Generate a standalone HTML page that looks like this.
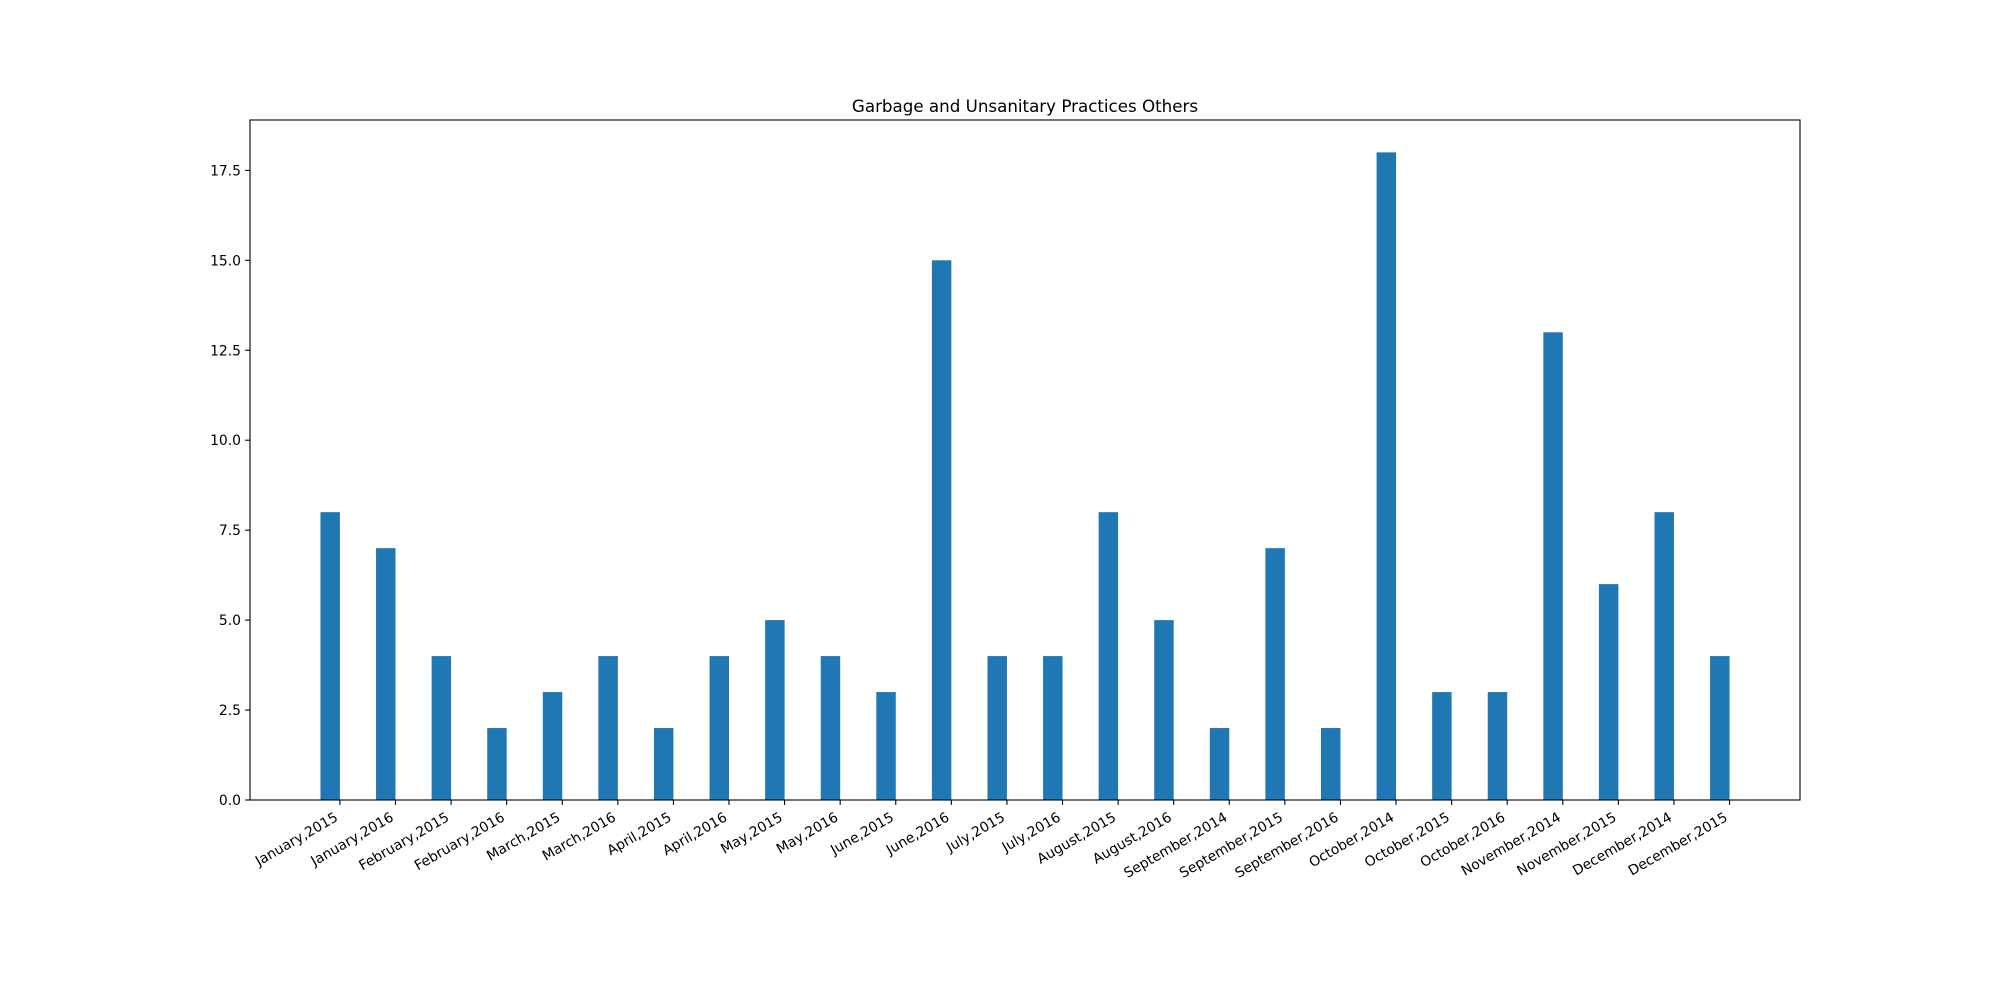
<!DOCTYPE html>
<html><head><meta charset="utf-8"><style>
html,body{margin:0;padding:0;background:#fff;}
svg{display:block;font-family:"DejaVu Sans","Liberation Sans",sans-serif;}
</style></head><body>
<svg id="chart" width="2000" height="1000" viewBox="0 0 2000 1000">
<rect width="2000" height="1000" fill="#fff"/>
<text x="1025" y="112" font-size="16.7" text-anchor="middle">Garbage and Unsanitary Practices Others</text>
<g id="bars"></g><g id="xticks"></g><g id="yticks"></g>
<rect x="250" y="120" width="1550" height="680" fill="none" stroke="#000" stroke-width="1.1"/>
</svg>
<script>
const categories=["January,2015","January,2016","February,2015","February,2016","March,2015","March,2016","April,2015","April,2016","May,2015","May,2016","June,2015","June,2016","July,2015","July,2016","August,2015","August,2016","September,2014","September,2015","September,2016","October,2014","October,2015","October,2016","November,2014","November,2015","December,2014","December,2015"];
const values=[8,7,4,2,3,4,2,4,5,4,3,15,4,4,8,5,2,7,2,18,3,3,13,6,8,4];
const yTicks=[0,2.5,5,7.5,10,12.5,15,17.5];
const NS="http://www.w3.org/2000/svg";
const L=250,R=1800,T=120,B=800,W=0.35;
const n=categories.length;
const xmin=-(n-1+W)*0.05, xmax=(n-1+W)*1.05;
const ymax=Math.max(...values)*1.05;
const xs=v=>L+(v-xmin)/(xmax-xmin)*(R-L);
const ys=v=>B-v/ymax*(B-T);
function mk(t,a){const e=document.createElementNS(NS,t);for(const k in a)e.setAttribute(k,a[k]);return e;}
const gb=document.getElementById('bars'),gx=document.getElementById('xticks'),gy=document.getElementById('yticks');
values.forEach((v,i)=>{
  const r=mk('rect',{x:xs(i),y:ys(v),width:xs(i+W)-xs(i),height:B-ys(v),fill:'#1f77b4'});
  
  
  gb.appendChild(r);
});
categories.forEach((c,i)=>{
  const x=xs(i+W);
  const l=mk('line',{x1:x,x2:x,y1:B,y2:B+4.9,stroke:'#000','stroke-width':1.1});
  
  
  gx.appendChild(l);
  const ax=x-5;
  const t=mk('text',{x:ax,y:B+21,'font-size':13.9,'text-anchor':'end',transform:`rotate(-30 ${ax} ${B+13})`});
  t.textContent=c;
  
  
  gx.appendChild(t);
});
yTicks.forEach(v=>{
  const y=ys(v);
  const l=mk('line',{x1:L-4.9,x2:L,y1:y,y2:y,stroke:'#000','stroke-width':1.1});
  
  
  gy.appendChild(l);
  const t=mk('text',{x:L-9,y:y+5,'font-size':13.9,'text-anchor':'end'});
  t.textContent=v.toFixed(1);
  
  
  gy.appendChild(t);
});
</script>
</body></html>
